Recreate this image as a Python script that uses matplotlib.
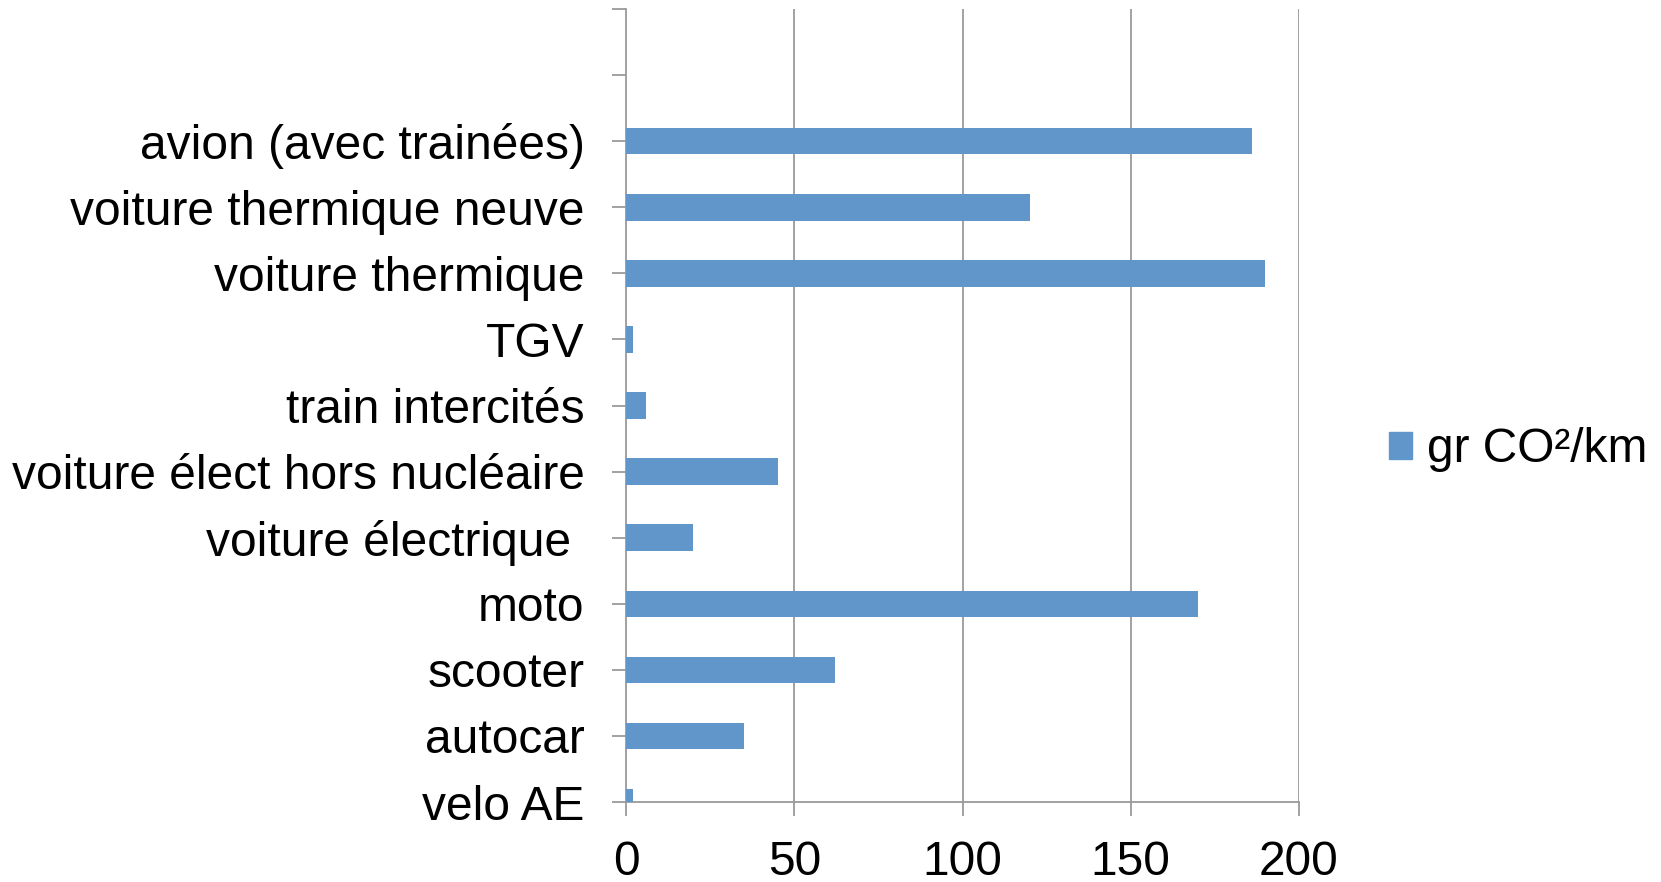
import numpy as np
import matplotlib.pyplot as plt
from matplotlib.patches import Patch

plt.rcParams['font.family'] = ['Liberation Sans', 'DejaVu Sans']

# donnees (du bas vers le haut)
categories = ['velo AE', 'autocar', 'scooter', 'moto', 'voiture électrique ',
              'voiture élect hors nucléaire', 'train intercités', 'TGV',
              'voiture thermique', 'voiture thermique neuve', 'avion (avec trainées)']
emissions = [2, 35, 62, 170, 20, 45, 6, 2, 190, 120, 186]
xticks = [0, 50, 100, 150, 200]
serie = 'gr CO²/km'

bleu = '#6096C9'
gris = '#9A9A9A'

fig = plt.figure(figsize=(16.61, 8.82), dpi=100)
ax = fig.add_axes([0.377, 0.0907, 0.405, 0.899])

pos = np.arange(len(categories))
ax.barh(pos, emissions, height=0.4, color=bleu, zorder=3)

ax.set_xlim(0, 200)
ax.set_ylim(0, 12)
ax.set_xticks(xticks)
ax.set_xticklabels([str(v) for v in xticks])
ax.set_yticks(np.arange(0, 13))
ax.set_yticklabels(categories + ['', ''])

# grille verticale
for v in xticks[1:]:
    ax.axvline(v, color=gris, lw=1.3, zorder=1)

for s in ['top', 'right']:
    ax.spines[s].set_visible(False)
for s in ['left', 'bottom']:
    ax.spines[s].set_color(gris)
    ax.spines[s].set_linewidth(1.3)

ax.tick_params(axis='y', length=10, width=1.3, color=gris, pad=20, labelsize=34.5)
ax.tick_params(axis='x', length=10, width=1.3, color=gris, pad=17, labelsize=34.5)

leg = fig.legend(handles=[Patch(color=bleu, label=serie)], loc='center left',
                 bbox_to_anchor=(0.81, 0.49), frameon=False, fontsize=34.5,
                 handlelength=0.5, handleheight=0.5, handletextpad=0.3)

fig.savefig('out.png', dpi=100)
